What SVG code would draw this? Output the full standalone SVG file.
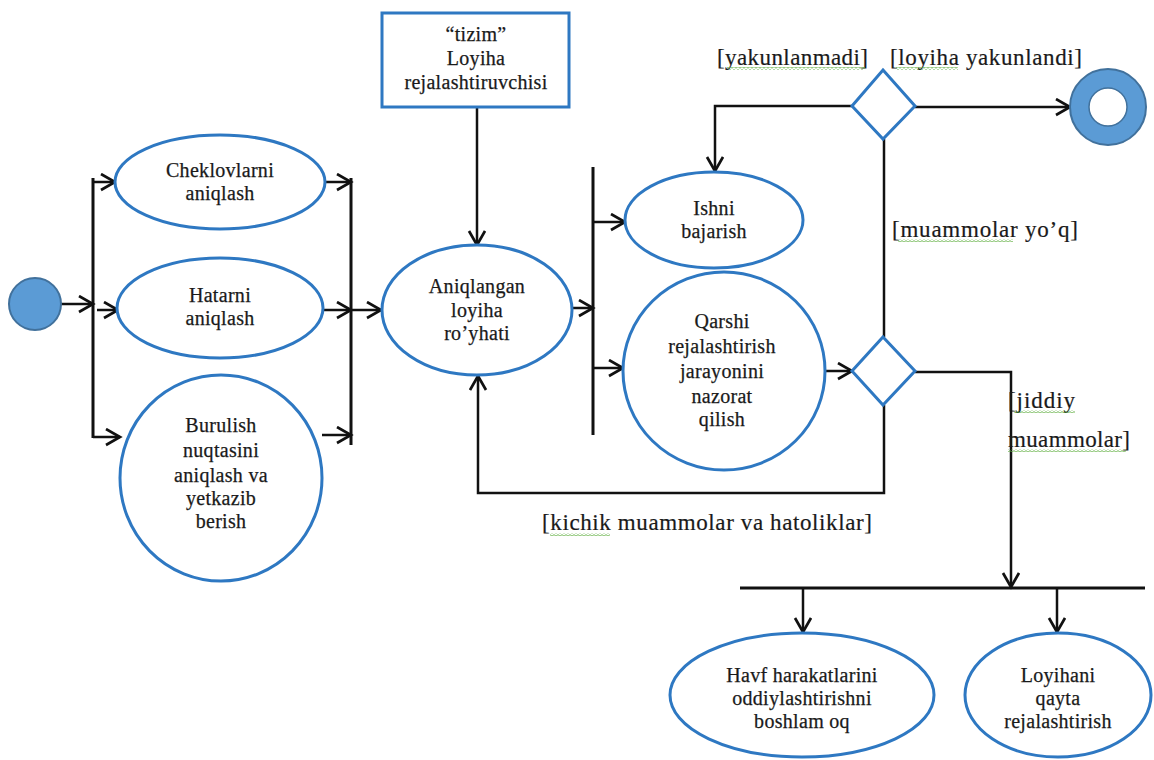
<svg xmlns="http://www.w3.org/2000/svg" width="1154" height="760" viewBox="0 0 1154 760">
  <style>
    .act { fill: #ffffff; stroke: #2e78c2; stroke-width: 3; }
    .lbl { font-family: "Liberation Serif", "Times New Roman", serif; font-size: 20px; fill: #1a1a1a; stroke: #1a1a1a; stroke-width: 0.25; text-anchor: middle; letter-spacing: 0.3px; }
    .guard { font-family: "Liberation Serif", "Times New Roman", serif; font-size: 23px; fill: #1a1a1a; stroke: #1a1a1a; stroke-width: 0.2; }
    .flow { fill: none; stroke: #111111; stroke-width: 2.5; }
    .arr { marker-end: url(#open); }
    .bar { stroke: #111111; stroke-width: 3; }
    .wave { fill: url(#squiggle); stroke: none; }
  </style>
  <defs>
    <marker id="open" markerUnits="userSpaceOnUse" markerWidth="18" markerHeight="20" refX="15" refY="9" orient="auto">
      <path d="M1,1 L15,9 L1,17" fill="none" stroke="#111111" stroke-width="2.7"/>
    </marker>
    <pattern id="squiggle" patternUnits="userSpaceOnUse" width="4" height="3">
      <path d="M0,2.2 L2,0.6 L4,2.2" fill="none" stroke="#5fae3e" stroke-width="0.9"/>
    </pattern>
  </defs>

  <rect width="1154" height="760" fill="#ffffff"/>

  <!-- connectors -->
  <g id="connectors">
    <path class="flow arr" d="M61,304 H93"/>
    <line class="bar" x1="93" y1="178" x2="93" y2="438"/>
    <path class="flow arr" d="M93,182 H115"/>
    <path class="flow arr" d="M97,310 H118"/>
    <path class="flow arr" d="M93,437 H120"/>
    <path class="flow arr" d="M325,182 H351"/>
    <path class="flow arr" d="M323,310 H351"/>
    <path class="flow arr" d="M322,435 H351"/>
    <line class="bar" x1="351" y1="178" x2="351" y2="445"/>
    <path class="flow arr" d="M351,310 H381"/>
    <path class="flow arr" d="M477,107 V245"/>
    <path class="flow arr" d="M572,308 H593"/>
    <line class="bar" x1="593" y1="167" x2="593" y2="435"/>
    <path class="flow arr" d="M593,222 H625"/>
    <path class="flow arr" d="M593,368 H623"/>
    <path class="flow arr" d="M825,371 H852"/>
    <path class="flow arr" d="M884,405 V493 H478 V376"/>
    <path class="flow arr" d="M915,372 H1011 V587"/>
    <line class="bar" x1="740" y1="588" x2="1145" y2="588"/>
    <path class="flow arr" d="M803,588 V632"/>
    <path class="flow arr" d="M1057,588 V632"/>
    <path class="flow arr" d="M852,106 H715 V171"/>
    <path class="flow arr" d="M915,107 H1070"/>
    <path class="flow" d="M884,139 V337"/>
  </g>

  <!-- guard labels -->
  <g id="guards">
    <text class="guard" x="717" y="65" textLength="151">[yakunlanmadi]</text>
    <rect class="wave" x="727" y="67" width="138" height="3"/>
    <text class="guard" x="890" y="65" textLength="192">[loyiha yakunlandi]</text>
    <rect class="wave" x="896" y="67" width="62" height="3"/>
    <text class="guard" x="892" y="237" textLength="186">[muammolar  yo’q]</text>
    <rect class="wave" x="898" y="239" width="115" height="3"/>
    <text class="guard" x="1008" y="408" textLength="67">[jiddiy</text>
    <rect class="wave" x="1014" y="410" width="61" height="3"/>
    <text class="guard" x="1008" y="447" textLength="122">muammolar]</text>
    <rect class="wave" x="1008" y="449" width="118" height="3"/>
    <text class="guard" x="542" y="530" textLength="330">[kichik muammolar  va hatoliklar]</text>
    <rect class="wave" x="550" y="533" width="60" height="3"/>
  </g>

  <!-- start / end -->
  <g id="start">
    <circle cx="35" cy="304" r="26" fill="#5b9bd5" stroke="#41719c" stroke-width="2"/>
  </g>
  <g id="end">
    <circle cx="1108" cy="107" r="38" fill="#5b9bd5" stroke="#41719c" stroke-width="2"/>
    <circle cx="1108" cy="107" r="19" fill="#ffffff" stroke="#41719c" stroke-width="1.5"/>
  </g>

  <!-- actor box -->
  <g id="planner">
    <rect class="act" x="382" y="13" width="187" height="94"/>
    <text class="lbl" x="476" y="41">“tizim”</text>
    <text class="lbl" x="476" y="65">Loyiha</text>
    <text class="lbl" x="476" y="89">rejalashtiruvchisi</text>
  </g>

  <!-- activities -->
  <g id="constraints">
    <ellipse class="act" cx="220" cy="182" rx="105" ry="47"/>
    <text class="lbl" x="220" y="177">Cheklovlarni</text>
    <text class="lbl" x="220" y="200">aniqlash</text>
  </g>
  <g id="errors">
    <ellipse class="act" cx="220" cy="308" rx="103" ry="50"/>
    <text class="lbl" x="220" y="302">Hatarni</text>
    <text class="lbl" x="220" y="325">aniqlash</text>
  </g>
  <g id="milestones">
    <ellipse class="act" cx="221" cy="478" rx="101" ry="103"/>
    <text class="lbl" x="221" y="432">Burulish</text>
    <text class="lbl" x="221" y="457">nuqtasini</text>
    <text class="lbl" x="221" y="482">aniqlash va</text>
    <text class="lbl" x="221" y="505">yetkazib</text>
    <text class="lbl" x="221" y="528">berish</text>
  </g>
  <g id="project-list">
    <ellipse class="act" cx="477" cy="310" rx="95" ry="65"/>
    <text class="lbl" x="477" y="293">Aniqlangan</text>
    <text class="lbl" x="477" y="317">loyiha</text>
    <text class="lbl" x="477" y="340">ro’yhati</text>
  </g>
  <g id="do-work">
    <ellipse class="act" cx="714" cy="220" rx="89" ry="48"/>
    <text class="lbl" x="714" y="215">Ishni</text>
    <text class="lbl" x="714" y="238">bajarish</text>
  </g>
  <g id="monitor">
    <ellipse class="act" cx="724" cy="371" rx="101" ry="99"/>
    <text class="lbl" x="722" y="328">Qarshi</text>
    <text class="lbl" x="722" y="353">rejalashtirish</text>
    <text class="lbl" x="722" y="378">jarayonini</text>
    <text class="lbl" x="722" y="403">nazorat</text>
    <text class="lbl" x="722" y="426">qilish</text>
  </g>
  <g id="mitigate">
    <ellipse class="act" cx="802" cy="695" rx="132" ry="62"/>
    <text class="lbl" x="802" y="682">Havf harakatlarini</text>
    <text class="lbl" x="802" y="705">oddiylashtirishni</text>
    <text class="lbl" x="802" y="728">boshlam oq</text>
  </g>
  <g id="replan">
    <ellipse class="act" cx="1058" cy="695" rx="93" ry="62"/>
    <text class="lbl" x="1058" y="682">Loyihani</text>
    <text class="lbl" x="1058" y="705">qayta</text>
    <text class="lbl" x="1058" y="728">rejalashtirish</text>
  </g>

  <!-- decisions -->
  <g id="decision-done">
    <polygon class="act" points="883,70 915,106 883,139 852,106"/>
  </g>
  <g id="decision-issues">
    <polygon class="act" points="883,337 915,371 883,405 852,371"/>
  </g>
</svg>
